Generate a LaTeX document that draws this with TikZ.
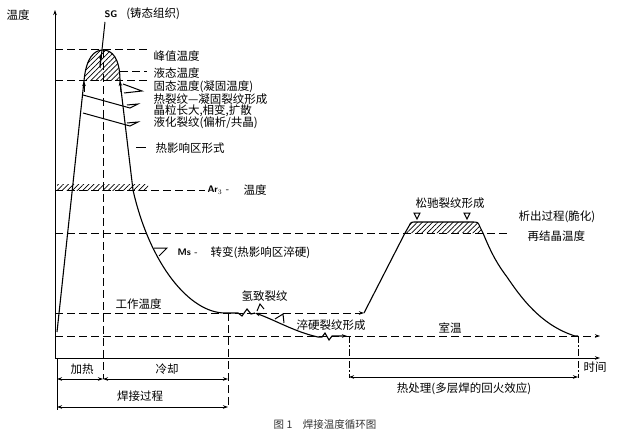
\documentclass[tikz,border=0pt]{standalone}
\usepackage{fontspec}
\setmainfont{Noto Sans CJK SC}
\usetikzlibrary{arrows.meta,patterns.meta,positioning}

\begin{document}
\begin{tikzpicture}[x=1pt,y=-1pt,line width=1pt,
        lbl/.style={inner sep=0pt,anchor=west,font=\fontsize{11.5}{13}\selectfont},
        mid/.style={inner sep=0pt,font=\fontsize{11.5}{13}\selectfont},
        sym/.style={inner sep=0pt,anchor=west,font=\sffamily\bfseries\fontsize{9.5}{10}\selectfont},
        guide/.style={dash pattern=on 8pt off 4pt},
        dashdot/.style={dash pattern=on 7pt off 2pt on 1.5pt off 2pt},
        curve/.style={line width=1.1pt},
        dim/.style={{Stealth[length=5pt,width=3.5pt]}-{Stealth[length=5pt,width=3.5pt]}},
        tip/.style={-{Stealth[length=5pt,width=3.5pt]}},
        hatch/.style={pattern={Lines[angle=45,distance=3.6pt,line width=0.7pt]}}]
        \useasboundingbox (0,0) rectangle (630,436);

        % axes
        \coordinate (o) at (55,358);
        \coordinate (ytop) at (55,10);
        \coordinate (xend) at (600,358);
        \draw[tip] (o) -- (ytop);
        \draw[tip] (o) -- (xend);
        \node[lbl] (axT) at (6,15) {温度};
        \node[lbl] (time) at (583,367) {时间};

        % hatched zones
        \fill[hatch] (84,81) .. controls (86,58) and (94,50) .. (103,50)
            .. controls (112,50) and (120,58) .. (120,81) -- cycle;
        \fill[hatch] (57,184) rectangle (148,190);
        \fill[hatch] (405,233) -- (409,226) .. controls (411,222) .. (416,222) -- (472,222)
            .. controls (478,222) .. (480,227) -- (483,233) -- cycle;

        % temperature levels
        \draw[guide] (55,50) -- (147,50);
        \draw[guide] (120,72) -- (147,72);
        \draw[guide] (55,81) -- (147,81);
        \draw[guide] (55,190) -- (205,190);
        \draw[guide] (55,233) -- (510,233);
        \draw[guide,tip] (55,313) -- (364,313);
        \draw[guide,tip] (55,336) -- (600,336);
        \draw[guide] (103,50) -- (103,379);
        \draw[guide] (228,313) -- (228,407);
        \draw[dashdot] (349,336) -- (349,378);
        \draw[dashdot] (578,336) -- (578,378);

        % welding cycle
        \draw[curve] (57,332) -- (84,81) .. controls (86,58) and (94,50) .. (103,50)
            .. controls (112,50) and (120,58) .. (120,81) -- (133,190)
            .. controls (150,265) and (190,313) .. (225,313) -- (238,313)
            -- (242,316) -- (247,309) -- (251,314) -- (255,313);
        \draw[curve,{Stealth[length=5pt,width=3.5pt]}-] (255,313) .. controls (275,320) and (295,332) .. (318,337);
        \draw[curve,tip] (318,337) -- (322,337) -- (325,333) -- (329,340) -- (332,336) -- (347,336);
        \draw[tip] (84,92) -- (84,81);
        \draw[tip] (121,92) -- (120,81);

        % heat treatment cycle
        \draw[curve] (364,313) -- (405,233) -- (409,226) .. controls (411,222) .. (416,222) -- (472,222)
            .. controls (478,222) .. (480,227) -- (483,233)
            .. controls (492,255) and (498,265) .. (507,277)
            .. controls (520,296) and (540,325) .. (575,336) -- (578,336);

        % crack marks
        \draw (123,84) -- (142,91) -- (124,93);
        \foreach \ya/\yb in {95/108,113/126}{
            \draw (83,\ya) -- (130,\yb) -- ++(8,-4) -- ++(-11,1);
        }
        \draw (154,248) -- (167,248) -- (159,256);
        \draw (275,319) -- (283,314) -- (284,323);
        \draw (257,311) -- (260,304) -- (264,309);
        \foreach \x in {417,467}{
            \draw (\x-3,213) -- (\x+3,213) -- (\x,219) -- cycle;
        }
        \draw (136,147) -- (146,147);

        % SG
        \node[sym] (sg) at (104,14) {SG};
        \node[lbl] (sgtxt) [right=8pt of sg] {(铸态组织)};
        \coordinate (sgfoot) at (105,22);
        \draw (sgfoot) -- (100,68);
        \draw[tip] (100,66) -- (101,54);

        % labels
        \node[lbl] (peakT) at (153,56) {峰值温度};
        \node[lbl] (liqT) at (153,73) {液态温度};
        \node[lbl] (solT) at (153,87) {固态温度(凝固温度)};
        \node[lbl] (hotC) at (153,99) {热裂纹—凝固裂纹形成};
        \node[lbl] (grain) at (153,111) {晶粒长大,相变,扩散};
        \node[lbl] (liqC) at (153,123) {液化裂纹(偏析/共晶)};
        \node[lbl] (hazT) at (155,148) {热影响区形式};
        \node[sym] (arT) at (207,190) {Ar$_3$ -};
        \node[lbl] (arTT) at (243,190) {温度};
        \node[sym] (ms) at (177,252) {Ms -};
        \node[lbl] (msT) at (210,253) {转变(热影响区淬硬)};
        \node[lbl] (workT) at (115,304) {工作温度};
        \node[lbl] (hyd) at (241,296) {氢致裂纹};
        \node[lbl] (quench) at (296,325) {淬硬裂纹形成};
        \node[lbl] (room) at (438,328) {室温};
        \node[lbl] (relax) at (415,203) {松驰裂纹形成};
        \node[lbl] (precip) at (518,217) {析出过程(脆化)};
        \node[lbl] (recry) at (527,236) {再结晶温度};

        % spans
        \draw (57,358) -- (57,410);
        \draw[dim] (57,379) -- (103,379);
        \draw[dim] (103,379) -- (228,379);
        \draw[dim] (57,407) -- (228,407);
        \draw[dim] (349,377) -- (578,377);
        \node[mid] (heat) at (82,369) {加热};
        \node[mid] (cool) at (167,369) {冷却};
        \node[mid] (proc) at (140,396) {焊接过程};
        \node[mid] (ht) at (464,389) {热处理(多层焊的回火效应)};
        \node[mid,text=black!80,font=\fontsize{10.5}{12}\selectfont] (cap) at (325,425) {图 1\quad 焊接温度循环图};
\end{tikzpicture}
\end{document}
